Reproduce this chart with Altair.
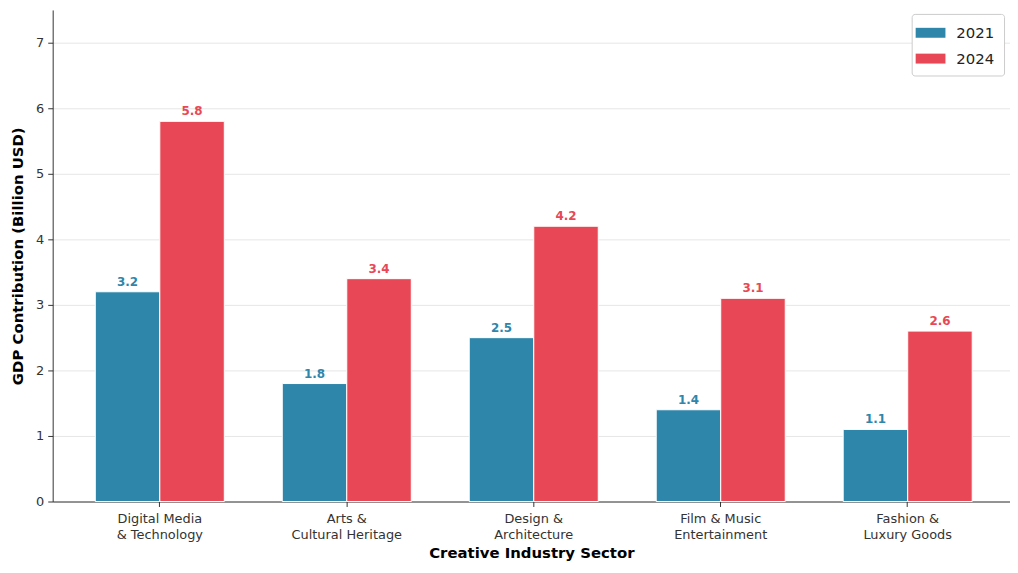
import altair as alt
import pandas as pd

sectors = ["Digital Media\n& Technology", "Arts &\nCultural Heritage", "Design &\nArchitecture",
           "Film & Music\nEntertainment", "Fashion &\nLuxury Goods"]
years = ["2021", "2024"]
gdp_2021 = [3.2, 1.8, 2.5, 1.4, 1.1]
gdp_2024 = [5.8, 3.4, 4.2, 3.1, 2.6]
colors = ["#2E86AB", "#E84855"]

rows = []
for s, a, b in zip(sectors, gdp_2021, gdp_2024):
    rows.append({"sector": s, "year": years[0], "value": a})
    rows.append({"sector": s, "year": years[1], "value": b})
df = pd.DataFrame(rows)

x = alt.X("sector:N", sort=sectors, title="Creative Industry Sector",
          scale=alt.Scale(paddingInner=0.31, paddingOuter=0.215, align=0.53),
          axis=alt.Axis(labelExpr="split(datum.label, '\\n')", labelAngle=0,
                        labelFontSize=13, labelColor="#333", labelPadding=6,
                        titleFontSize=15, titleFontWeight="bold", titleColor="#000",
                        titlePadding=4, tickSize=5, tickColor="#333",
                        domainColor="#333", labelLineHeight=16))
xo = alt.XOffset("year:N", sort=years, scale=alt.Scale(paddingInner=0, paddingOuter=0))
color = alt.Color("year:N", sort=years, scale=alt.Scale(domain=years, range=colors),
                  legend=alt.Legend(title=None, orient="none", legendX=865, legendY=4,
                                    labelFontSize=15, labelColor="#222",
                                    symbolType="M-1.5,-0.5H1.5V0.5H-1.5Z", symbolSize=400,
                                    symbolStrokeWidth=0, rowPadding=8,
                                    strokeColor="#cccccc", fillColor="white",
                                    padding=9, cornerRadius=3, labelOffset=16))
y = alt.Y("value:Q", title="GDP Contribution (Billion USD)",
          scale=alt.Scale(domain=[0, 7.5], nice=False),
          axis=alt.Axis(values=[0, 1, 2, 3, 4, 5, 6, 7], format="d", labelFontSize=13,
                        labelColor="#333", labelPadding=4,
                        titleFontSize=15, titleFontWeight="bold", titleColor="#000",
                        titlePadding=10, tickSize=5, tickColor="#333", domainColor="#333",
                        grid=True, gridColor="#e6e6e6", gridWidth=1))

bars = alt.Chart(df).mark_bar(stroke="white", strokeWidth=1).encode(
    x=x, xOffset=xo, y=y, color=color)

labels = alt.Chart(df).mark_text(dy=-10, fontWeight="bold", fontSize=12).encode(
    x=alt.X("sector:N", sort=sectors), xOffset=xo, y="value:Q",
    text=alt.Text("value:Q", format=".1f"),
    color=alt.Color("year:N", sort=years, legend=None))

chart = alt.layer(bars, labels).properties(
    width=964, height=495, autosize=alt.AutoSizeParams(type="none"),
    padding={"left": 45, "top": 0, "right": 0, "bottom": 66}
).configure(font="DejaVu Sans").configure_view(strokeWidth=0, stroke="transparent")

chart.save("out.html", embed_options={"renderer": "svg", "actions": False})
